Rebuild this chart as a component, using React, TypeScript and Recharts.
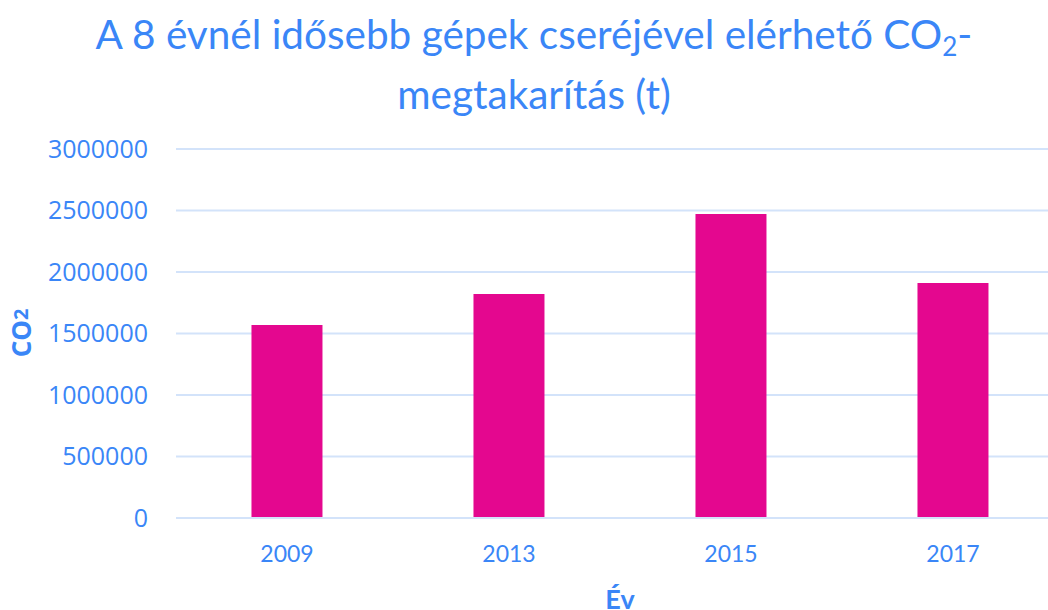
import React from "react";
import { BarChart, Bar, XAxis, YAxis, CartesianGrid, Label } from "recharts";

const years = ["2009", "2013", "2015", "2017"];
const savings = [1569000, 1821000, 2471000, 1910000];
const yTicks = [0, 500000, 1000000, 1500000, 2000000, 2500000, 3000000];

const data = years.map((y, i) => ({ year: y, value: savings[i] }));

const BLUE = "#3a86f7";
const PINK = "#e4078f";
const GRID = "#d3e3fa";

const CO2Label = () => (
  <text
    x={31}
    y={333}
    transform="rotate(-90 31 333)"
    textAnchor="middle"
    fill={BLUE}
    fontSize={26}
    fontWeight="bold"
    fontFamily="'Open Sans', sans-serif"
  >
    CO<tspan fontSize={20} dy={-3}>2</tspan>
  </text>
);

export default function App() {
  return (
    <div style={{ position: "absolute", left: 0, top: 0, width: 1048, height: 610, overflow: "hidden", background: "#fff" }}>
      <div
        style={{
          position: "absolute",
          left: 0,
          top: 10,
          width: 1068,
          textAlign: "center",
          fontFamily: "Lato, sans-serif",
          fontSize: 40.5,
          lineHeight: "47px",
          color: BLUE,
        }}
      >
        A 8 évnél idősebb gépek cseréjével elérhető CO<sub style={{ fontSize: 26, verticalAlign: "-7px" }}>2</sub>-
        <br />
        megtakarítás (t)
      </div>
      <BarChart
        width={1080}
        height={610}
        data={data}
        margin={{ top: 149, right: 16, bottom: 0, left: 0 }}
        barCategoryGap="34%"
      >
        <CartesianGrid vertical={false} stroke={GRID} strokeWidth={2} />
        <XAxis
          dataKey="year"
          height={92}
          axisLine={{ stroke: GRID, strokeWidth: 2 }}
          tickLine={false}
          tickMargin={22}
          tick={{ fill: BLUE, fontSize: 23, fontFamily: "Lato, sans-serif" }}
        >
          <Label
            value="Év"
            position="insideBottom"
            offset={1}
            fill={BLUE}
            fontSize={27}
            fontWeight="bold"
            fontFamily="Lato, sans-serif"
          />
        </XAxis>
        <YAxis
          width={176}
          domain={[0, 3000000]}
          ticks={yTicks}
          interval={0}
          axisLine={false}
          tickLine={false}
          tickSize={0}
          tickMargin={28}
          tick={{ fill: BLUE, fontSize: 25, fontFamily: "'Open Sans', sans-serif" }}
        >
          <Label content={<CO2Label />} />
        </YAxis>
        <Bar dataKey="value" fill={PINK} isAnimationActive={false} />
      </BarChart>
    </div>
  );
}
